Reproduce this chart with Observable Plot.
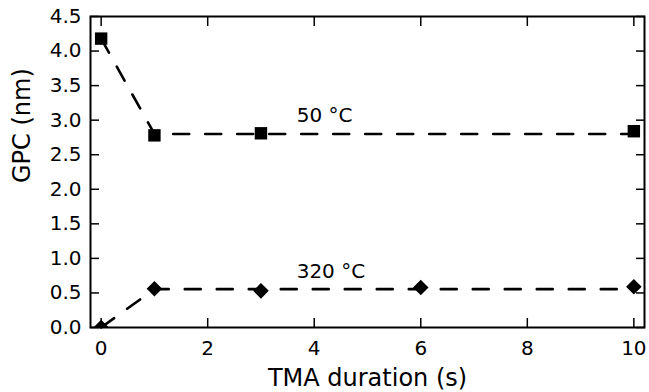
<!DOCTYPE html>
<html>
<head>
<meta charset="utf-8">
<script src="https://cdn.jsdelivr.net/npm/d3@7"></script>
<script src="https://cdn.jsdelivr.net/npm/@observablehq/plot@0.6"></script>
<style>
  html, body { margin: 0; padding: 0; background: #fff; }
  #chart svg { display: block; background: #fff; }
</style>
</head>
<body>
<div id="chart"></div>
<script>
// Measured data
const time50 = [0, 1, 3, 10];
const gpc50 = [4.18, 2.78, 2.81, 2.84];
const time320 = [0, 1, 3, 6, 10];
const gpc320 = [0.0, 0.56, 0.53, 0.58, 0.59];

// Dashed guide lines (fit)
const fitTime = [0, 1, 10];
const fit50 = [4.18, 2.80, 2.80];
const fit320 = [0.0, 0.555, 0.555];

// Annotations
const labelText = ["50 °C", "320 °C"];
const labelTime = [3.67, 3.67];
const labelGpc = [3.06, 0.806];

// Ticks
const xTicks = [0, 2, 4, 6, 8, 10];
const yTicks = [0, 0.5, 1.0, 1.5, 2.0, 2.5, 3.0, 3.5, 4.0, 4.5];

const xLabel = "TMA duration (s)";
const yLabel = "GPC (nm)";

const pts50 = time50.map((t, i) => ({t, v: gpc50[i]}));
const pts320 = time320.map((t, i) => ({t, v: gpc320[i]}));
const line50 = fitTime.map((t, i) => ({t, v: fit50[i]}));
const line320 = fitTime.map((t, i) => ({t, v: fit320[i]}));
const labels = labelText.map((s, i) => ({s, t: labelTime[i], v: labelGpc[i]}));

const chart = Plot.plot({
  width: 649,
  height: 392,
  marginLeft: 90,
  marginRight: 5,
  marginTop: 16,
  marginBottom: 65,
  style: {fontFamily: "'DejaVu Sans', sans-serif", fontSize: "20px", color: "black", background: "white"},
  x: {domain: [-0.2, 10.2]},
  y: {domain: [0, 4.5]},
  marks: [
    Plot.line(line50, {x: "t", y: "v", stroke: "black", strokeWidth: 2.6, strokeDasharray: "16,16"}),
    Plot.line(line320, {x: "t", y: "v", stroke: "black", strokeWidth: 2.6, strokeDasharray: "16,16"}),
    Plot.dot(pts50, {x: "t", y: "v", symbol: "square", r: 7, fill: "black", stroke: "none", clip: true}),
    Plot.dot(pts320, {x: "t", y: "v", symbol: "diamond2", r: 7, fill: "black", stroke: "none", clip: true}),
    Plot.text(labels, {x: "t", y: "v", text: "s", textAnchor: "start", fontSize: 20, fill: "black"}),
    Plot.axisX({ticks: xTicks, tickSize: -9, tickPadding: 22, strokeWidth: 1.5, label: null, fontSize: 20}),
    Plot.axisX({anchor: "top", ticks: xTicks, tickSize: -9, strokeWidth: 1.5, tickFormat: () => "", label: null}),
    Plot.axisY({ticks: yTicks, tickSize: -9, tickPadding: 18, strokeWidth: 1.5, tickFormat: d3.format(".1f"), label: null, fontSize: 20}),
    Plot.axisY({anchor: "right", ticks: yTicks, tickSize: -9, strokeWidth: 1.5, tickFormat: () => "", label: null}),
    Plot.frame({stroke: "black", strokeWidth: 2}),
    Plot.text([yLabel], {text: d => d, frameAnchor: "left", dx: -68, dy: 11, rotate: -90, fontSize: 24, fill: "black"}),
    Plot.text([xLabel], {text: d => d, frameAnchor: "bottom", dy: 58, fontSize: 24, fill: "black"})
  ]
});
document.getElementById("chart").appendChild(chart);
</script>
</body>
</html>
